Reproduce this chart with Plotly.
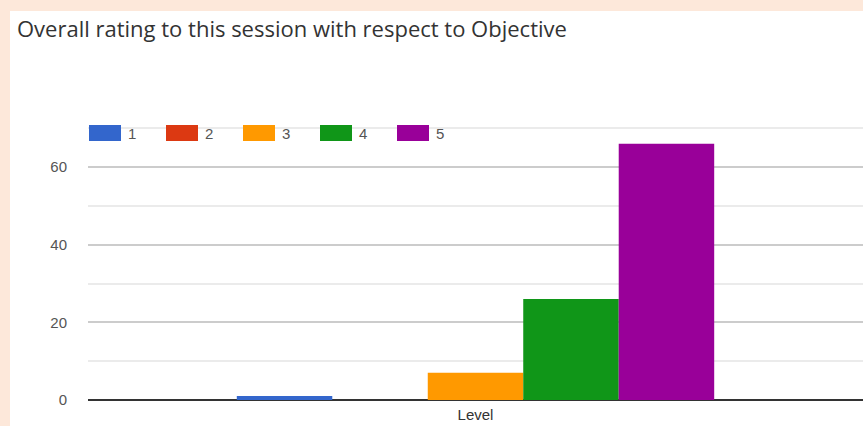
import plotly.graph_objects as go

categories = ["Level"]
series_names = ["1", "2", "3", "4", "5"]
series_values = [[1], [0], [7], [26], [66]]
colors = ["#3366cc", "#dc3912", "#ff9900", "#109618", "#990099"]
y_ticks = [0, 20, 40, 60]

W, H = 863, 426
L, R, T, B = 88, 0, 127, 26
pw = W - L - R
ph = H - T - B


def px_x(x):
    return (x - L) / pw


def px_y(y):
    return (H - B - y) / ph


fig = go.Figure()
for name, vals, col in zip(series_names, series_values, colors):
    fig.add_trace(go.Bar(x=categories, y=vals, name=name,
                         marker=dict(color=col, line=dict(width=0)),
                         showlegend=False))

shapes = [dict(type="rect", xref="paper", yref="paper", layer="below",
               x0=px_x(10), x1=px_x(W + 5), y0=px_y(H + 10), y1=px_y(11),
               fillcolor="white", line=dict(width=0))]
annotations = []
# legend row drawn as swatches to match the wide color blocks
for i, (name, col) in enumerate(zip(series_names, colors)):
    x0 = 89 + i * 77
    shapes.append(dict(type="rect", xref="paper", yref="paper",
                       x0=px_x(x0), x1=px_x(x0 + 32),
                       y0=px_y(141), y1=px_y(125),
                       fillcolor=col, line=dict(width=0)))
    annotations.append(dict(text=name, xref="paper", yref="paper",
                            x=px_x(x0 + 37), y=px_y(133), xanchor="left",
                            yanchor="middle", showarrow=False,
                            font=dict(family="Liberation Sans", size=15, color="#555555")))

fig.update_layout(
    width=W, height=H,
    margin=dict(l=L, r=R, t=T, b=B, autoexpand=False),
    paper_bgcolor="#fde8da",
    plot_bgcolor="white",
    barmode="group", bargap=0.384, bargroupgap=0,
    title=dict(text="Overall rating to this session with respect to Objective",
               x=17 / W, xanchor="left",
               y=1 - 29 / H, yanchor="middle",
               font=dict(family="Open Sans", size=22, color="#333333")),
    shapes=shapes,
    annotations=annotations,
    font=dict(family="Liberation Sans", size=15, color="#555555"),
)
fig.update_xaxes(showgrid=False, ticks="", ticklabelstandoff=4,
                 tickfont=dict(size=15, color="#333333"))
fig.update_yaxes(range=[0, 70.3], tickvals=y_ticks, showgrid=True,
                 gridcolor="#cccccc", gridwidth=2,
                 zeroline=True, zerolinecolor="#333333", zerolinewidth=2,
                 minor=dict(dtick=10, showgrid=True, gridcolor="#ebebeb", gridwidth=2),
                 ticks="", ticklabelstandoff=20)

fig.write_html("out.html", config={"displayModeBar": False},
               post_script="document.body.style.margin='0';")
